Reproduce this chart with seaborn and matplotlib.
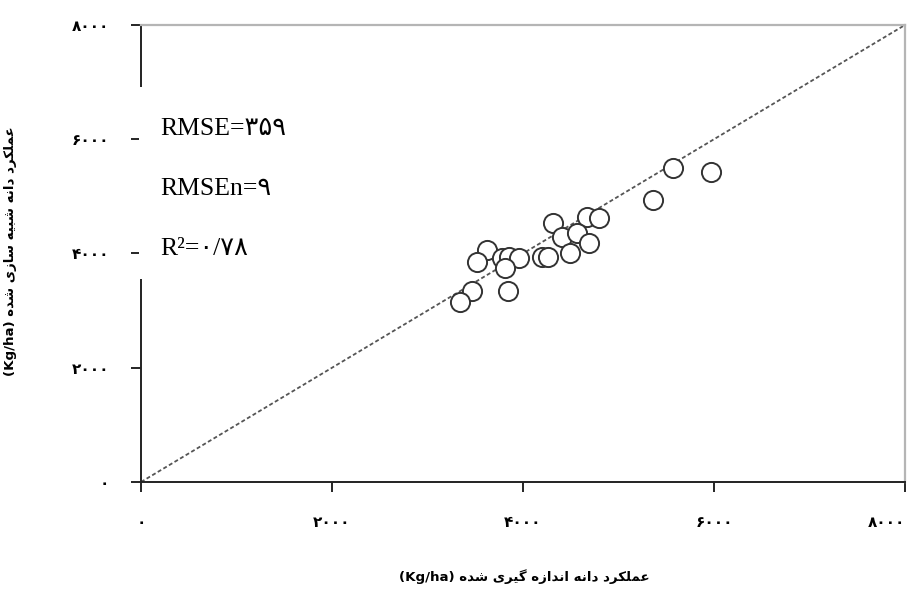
import matplotlib
matplotlib.use("Agg")
import matplotlib.pyplot as plt
import pandas as pd
import seaborn as sns
from matplotlib.patches import Rectangle

# ── Datos (kg/ha) ───────────────────────────────────────────────────────────
measured = [5360, 5570, 5970, 4310, 4670, 4800, 4410, 4570, 4690, 4490, 3620,
            3520, 3780, 3850, 3960, 3810, 4200, 4260, 3470, 3340, 3840]
simulated = [4940, 5500, 5430, 4530, 4640, 4620, 4290, 4360, 4180, 4010, 4060,
             3850, 3920, 3940, 3920, 3750, 3940, 3940, 3340, 3150, 3340]
one_to_one = [0, 8000]
ticks = [0, 2000, 4000, 6000, 8000]
tick_labels = ["۰", "۲۰۰۰", "۴۰۰۰", "۶۰۰۰", "۸۰۰۰"]
stats_lines = ["RMSE=۳۵۹", "RMSEn=۹", "R²=۰/۷۸"]
x_label_fa = "عملکرد دانه اندازه گیری شده"
y_label_fa = "عملکرد دانه شبیه سازی شده"
unit = "(Kg/ha)"

# formas de presentación: aislada, final, inicial, media
FORMS = {
    "ا": ("\ufe8d", "\ufe8e", None, None),
    "ب": ("\ufe8f", "\ufe90", "\ufe91", "\ufe92"),
    "د": ("\ufea9", "\ufeaa", None, None),
    "ر": ("\ufead", "\ufeae", None, None),
    "ز": ("\ufeaf", "\ufeb0", None, None),
    "س": ("\ufeb1", "\ufeb2", "\ufeb3", "\ufeb4"),
    "ش": ("\ufeb5", "\ufeb6", "\ufeb7", "\ufeb8"),
    "ع": ("\ufec9", "\ufeca", "\ufecb", "\ufecc"),
    "ل": ("\ufedd", "\ufede", "\ufedf", "\ufee0"),
    "م": ("\ufee1", "\ufee2", "\ufee3", "\ufee4"),
    "ن": ("\ufee5", "\ufee6", "\ufee7", "\ufee8"),
    "ه": ("\ufee9", "\ufeea", "\ufeeb", "\ufeec"),
    "ک": ("\ufb8e", "\ufb8f", "\ufb90", "\ufb91"),
    "گ": ("\ufb92", "\ufb93", "\ufb94", "\ufb95"),
    "ی": ("\ufbfc", "\ufbfd", "\ufbfe", "\ufbff"),
}


def shape_rtl(text: str) -> str:
    """Une letras persas y las ordena para dibujo izquierda→derecha."""
    out = []
    for i, ch in enumerate(text):
        if ch not in FORMS:
            out.append(ch)
            continue
        prev = text[i - 1] if i > 0 else ""
        nxt = text[i + 1] if i + 1 < len(text) else ""
        joins_prev = prev in FORMS and FORMS[prev][2] is not None
        joins_next = nxt in FORMS and FORMS[ch][2] is not None
        iso, fin, ini, med = FORMS[ch]
        if joins_prev and joins_next:
            out.append(med)
        elif joins_prev:
            out.append(fin)
        elif joins_next:
            out.append(ini)
        else:
            out.append(iso)
    return "".join(reversed(out))


sns.set_theme(style="white")
plt.rcParams["font.family"] = ["DejaVu Sans"]
plt.rcParams["text.color"] = "black"
plt.rcParams["axes.labelcolor"] = "black"
plt.rcParams["xtick.color"] = "black"
plt.rcParams["ytick.color"] = "black"

df = pd.DataFrame({"measured": measured, "simulated": simulated})

fig = plt.figure(figsize=(9.17, 5.89), dpi=100)
ax = fig.add_axes([0.1538, 0.1817, 0.8331, 0.7759])

ax.plot(one_to_one, one_to_one, color="#555555", lw=1.3, ls=(0, (2.2, 1.4)), zorder=2)
sns.scatterplot(data=df, x="measured", y="simulated", ax=ax, s=190, marker="o",
                facecolor="white", edgecolor="#333333", linewidth=1.4, zorder=3)

ax.set_xlim(0, 8000)
ax.set_ylim(0, 8000)
ax.set_xticks(ticks)
ax.set_yticks(ticks)
ax.set_xticklabels(tick_labels, fontweight="bold", fontsize=11)
ax.set_yticklabels(tick_labels, fontweight="bold", fontsize=11)
ax.get_xticklabels()[-1].set_ha("right")
ax.tick_params(axis="both", direction="out", length=7, width=1.2,
               left=True, bottom=True)
ax.tick_params(axis="x", pad=17)
ax.tick_params(axis="y", pad=16)

for side in ["left", "bottom"]:
    ax.spines[side].set_color("#222222")
    ax.spines[side].set_linewidth(1.4)
for side in ["top", "right"]:
    ax.spines[side].set_color("#b5b5b5")
    ax.spines[side].set_linewidth(1.6)

ax.set_xlabel(unit + " " + shape_rtl(x_label_fa), fontweight="bold", fontsize=9.6)
ax.set_ylabel(unit + " " + shape_rtl(y_label_fa), fontweight="bold", fontsize=9.6)
ax.xaxis.set_label_coords(0.502, -0.19)
ax.yaxis.set_label_coords(-0.163, 0.505)

# caja blanca que tapa el eje izquierdo detrás del texto
fig.patches.append(Rectangle((139 / 917, 1 - 279 / 589), 170 / 917, 192 / 589,
                             transform=fig.transFigure, facecolor="white",
                             edgecolor="none", zorder=5))
for k, line in enumerate(stats_lines):
    fig.text(160 / 917, 1 - (135 + 60 * k) / 589, line, fontsize=18.5,
             family=["Liberation Serif", "DejaVu Sans"], ha="left", va="baseline",
             zorder=6)

fig.savefig("out.png", dpi=100)
